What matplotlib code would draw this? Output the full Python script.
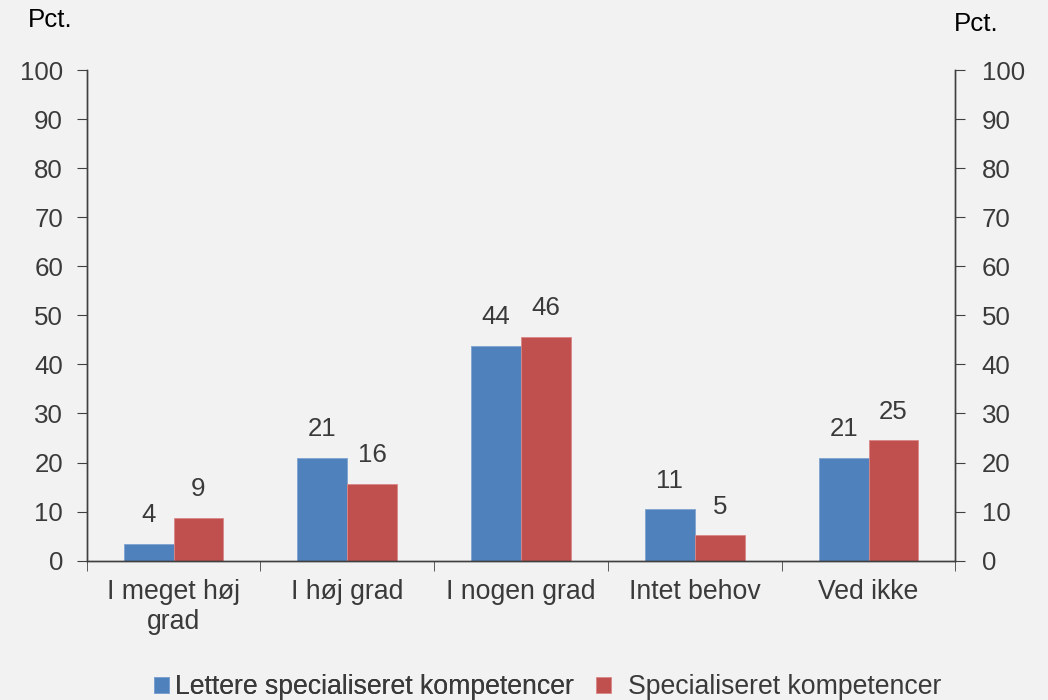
import numpy as np
import matplotlib
matplotlib.use("Agg")
import matplotlib.pyplot as plt

categories = ["I meget høj\ngrad", "I høj grad", "I nogen grad", "Intet behov", "Ved ikke"]
lettere = [3.4, 21.0, 43.8, 10.5, 21.0]
special = [8.7, 15.7, 45.6, 5.2, 24.5]
lettere_labels = ["4", "21", "44", "11", "21"]
special_labels = ["9", "16", "46", "5", "25"]
series_names = ["Lettere specialiseret kompetencer", "Specialiseret kompetencer"]
yticks = list(range(0, 101, 10))

BG = "#f2f2f2"
TXT = "#3a3a3a"
BLUE = "#4f81bd"
RED = "#c0504d"
FS = 18.6
FS_CAT = 19.2

plt.rcParams["font.family"] = ["Liberation Sans", "DejaVu Sans"]

fig = plt.figure(figsize=(10.48, 7.0), dpi=100, facecolor=BG)
ax = fig.add_axes([0.0827, 0.199, 0.829, 0.701])
ax.set_facecolor(BG)

x = np.arange(len(categories))
w = 0.287
b1 = ax.bar(x - w / 2, lettere, w, color=BLUE, edgecolor="#7fa3d1", linewidth=0.6,
            label=series_names[0])
b2 = ax.bar(x + w / 2, special, w, color=RED, edgecolor="#d98886", linewidth=0.6,
            label=series_names[1])

for bars, labs in ((b1, lettere_labels), (b2, special_labels)):
    for r, lab in zip(bars, labs):
        ax.annotate(lab, (r.get_x() + r.get_width() / 2, r.get_height()),
                    xytext=(0, 12), textcoords="offset points",
                    ha="center", va="bottom", fontsize=FS, color=TXT)

ax.set_xlim(-0.5, len(categories) - 0.5)
ax.set_ylim(0, 100)
ax.set_yticks(yticks)
ax.set_xticks(x)
ax.set_xticklabels(categories, fontsize=FS_CAT, color=TXT, linespacing=1.2)
ax.tick_params(axis="x", length=0, pad=13)
ax.set_xticks(np.arange(-0.5, len(categories)), minor=True)
ax.tick_params(axis="x", which="minor", length=7, direction="out", color="#404040")
ax.tick_params(axis="y", labelsize=FS, labelcolor=TXT, length=7, direction="out",
               color="#404040", pad=10)

ax2 = ax.twinx()
ax2.set_ylim(0, 100)
ax2.set_yticks(yticks)
ax2.tick_params(axis="y", labelsize=FS, labelcolor=TXT, length=7, direction="out",
                color="#404040", pad=12)

for a in (ax, ax2):
    a.spines["top"].set_visible(False)
    for s in ("left", "right", "bottom"):
        a.spines[s].set_color("#404040")
        a.spines[s].set_linewidth(1.0)

fig.text(0.048, 0.971, "Pct.", fontsize=FS, color="black", ha="center", va="center")
fig.text(0.931, 0.966, "Pct.", fontsize=FS, color="black", ha="center", va="center")

leg1 = fig.legend(handles=[b1], loc="center left", bbox_to_anchor=(0.147, 0.018),
                  frameon=False, fontsize=FS_CAT, handlelength=0.55, handleheight=0.55,
                  handletextpad=0.25, labelcolor=TXT, borderaxespad=0, borderpad=0)
fig.add_artist(leg1)
fig.legend(handles=[b2], loc="center left", bbox_to_anchor=(0.569, 0.018),
           frameon=False, fontsize=FS_CAT, handlelength=0.55, handleheight=0.55,
           handletextpad=0.62, labelcolor=TXT, borderaxespad=0, borderpad=0)

fig.savefig("out.png", dpi=100, facecolor=BG)
